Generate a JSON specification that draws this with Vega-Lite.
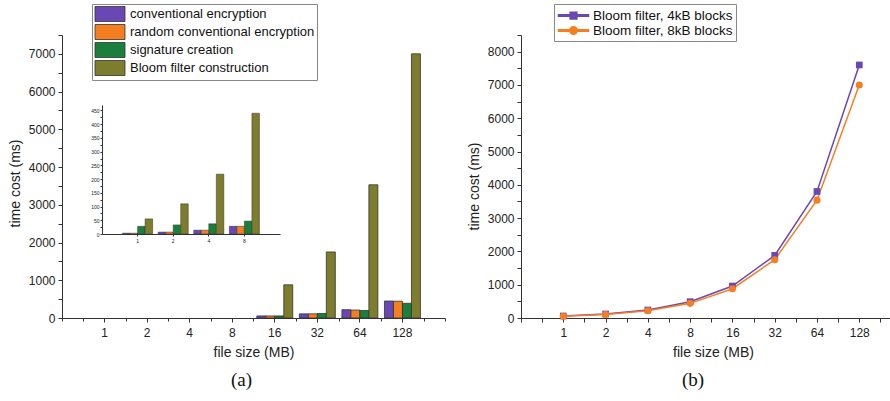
{
  "$schema": "https://vega.github.io/schema/vega-lite/v6.json",
  "padding": {"left": 8, "top": 3, "right": 0, "bottom": 0},
  "background": "white",
  "config": {
    "font": "Liberation Sans",
    "view": {"stroke": null},
    "axis": {"grid": false, "domainColor": "#333", "tickColor": "#333", "labelColor": "#222", "titleColor": "#222", "labelFont": "Liberation Sans", "titleFont": "Liberation Sans", "titleFontWeight": "normal", "labelFontSize": 12, "titleFontSize": 14, "tickSize": 4},
    "concat": {"spacing": 21}
  },
  "resolve": {"scale": {"color": "independent"}, "legend": {"color": "independent"}},
  "datasets": {
    "bars": [
      {"size": 1, "series": "conventional encryption", "value": 3},
      {"size": 1, "series": "random conventional encryption", "value": 3},
      {"size": 1, "series": "signature creation", "value": 28},
      {"size": 1, "series": "Bloom filter construction", "value": 55},
      {"size": 2, "series": "conventional encryption", "value": 7},
      {"size": 2, "series": "random conventional encryption", "value": 7},
      {"size": 2, "series": "signature creation", "value": 33},
      {"size": 2, "series": "Bloom filter construction", "value": 110},
      {"size": 4, "series": "conventional encryption", "value": 14},
      {"size": 4, "series": "random conventional encryption", "value": 14},
      {"size": 4, "series": "signature creation", "value": 37},
      {"size": 4, "series": "Bloom filter construction", "value": 218},
      {"size": 8, "series": "conventional encryption", "value": 28},
      {"size": 8, "series": "random conventional encryption", "value": 28},
      {"size": 8, "series": "signature creation", "value": 47},
      {"size": 8, "series": "Bloom filter construction", "value": 440},
      {"size": 16, "series": "conventional encryption", "value": 55},
      {"size": 16, "series": "random conventional encryption", "value": 55},
      {"size": 16, "series": "signature creation", "value": 55},
      {"size": 16, "series": "Bloom filter construction", "value": 880},
      {"size": 32, "series": "conventional encryption", "value": 110},
      {"size": 32, "series": "random conventional encryption", "value": 110},
      {"size": 32, "series": "signature creation", "value": 120},
      {"size": 32, "series": "Bloom filter construction", "value": 1750},
      {"size": 64, "series": "conventional encryption", "value": 220},
      {"size": 64, "series": "random conventional encryption", "value": 210},
      {"size": 64, "series": "signature creation", "value": 200},
      {"size": 64, "series": "Bloom filter construction", "value": 3530},
      {"size": 128, "series": "conventional encryption", "value": 450},
      {"size": 128, "series": "random conventional encryption", "value": 445},
      {"size": 128, "series": "signature creation", "value": 390},
      {"size": 128, "series": "Bloom filter construction", "value": 7000}
    ],
    "lines": [
      {"size": 1, "series": "Bloom filter, 4kB blocks", "value": 60},
      {"size": 2, "series": "Bloom filter, 4kB blocks", "value": 120},
      {"size": 4, "series": "Bloom filter, 4kB blocks", "value": 240},
      {"size": 8, "series": "Bloom filter, 4kB blocks", "value": 490},
      {"size": 16, "series": "Bloom filter, 4kB blocks", "value": 960},
      {"size": 32, "series": "Bloom filter, 4kB blocks", "value": 1880},
      {"size": 64, "series": "Bloom filter, 4kB blocks", "value": 3800},
      {"size": 128, "series": "Bloom filter, 4kB blocks", "value": 7600},
      {"size": 1, "series": "Bloom filter, 8kB blocks", "value": 50},
      {"size": 2, "series": "Bloom filter, 8kB blocks", "value": 105},
      {"size": 4, "series": "Bloom filter, 8kB blocks", "value": 220},
      {"size": 8, "series": "Bloom filter, 8kB blocks", "value": 440},
      {"size": 16, "series": "Bloom filter, 8kB blocks", "value": 880},
      {"size": 32, "series": "Bloom filter, 8kB blocks", "value": 1750},
      {"size": 64, "series": "Bloom filter, 8kB blocks", "value": 3540},
      {"size": 128, "series": "Bloom filter, 8kB blocks", "value": 7000}
    ]
  },
  "hconcat": [
    {
      "width": 383,
      "height": 283,
      "data": {"name": "bars"},
      "title": {"text": "(a)", "orient": "bottom", "font": "Liberation Serif", "fontSize": 19, "fontWeight": "normal", "color": "#111", "dx": -12, "offset": 12},
      "layer": [
        {
          "transform": [{"filter": {"field": "size", "oneOf": [16, 32, 64, 128]}}],
          "mark": {"type": "bar", "stroke": "#333", "strokeWidth": 0.8},
          "encoding": {
            "x": {"field": "size", "type": "ordinal", "scale": {"domain": [1, 2, 4, 8, 16, 32, 64, 128], "paddingInner": 0.155, "paddingOuter": 0.5775}, "axis": {"title": "file size (MB)", "labelAngle": 0, "bandPosition": 0.5, "labelPadding": 5, "titlePadding": 7}},
            "xOffset": {"field": "series", "type": "nominal", "scale": {"domain": ["conventional encryption", "random conventional encryption", "signature creation", "Bloom filter construction"]}},
            "y": {"field": "value", "type": "quantitative", "scale": {"domain": [0, 7500], "nice": false}, "axis": {"title": "time cost (ms)", "format": "d", "values": [0, 500, 1000, 1500, 2000, 2500, 3000, 3500, 4000, 4500, 5000, 5500, 6000, 6500, 7000, 7500], "labelExpr": "datum.value % 1000 === 0 ? datum.label : ''", "labelPadding": 3, "titlePadding": 6, "titleY": 148}},
            "color": {"field": "series", "type": "nominal", "scale": {"domain": ["conventional encryption", "random conventional encryption", "signature creation", "Bloom filter construction"], "range": ["#6a48b4", "#f57f20", "#1a7f3c", "#7d7d2d"]}, "legend": {"orient": "none", "legendX": 30, "legendY": -31, "title": null, "strokeColor": "#888", "fillColor": "white", "padding": 2, "symbolType": "M-2,-1H2V1H-2Z", "symbolSize": 225, "symbolOffset": 8, "symbolStrokeColor": "#333", "symbolStrokeWidth": 0.8, "symbolOpacity": 1, "labelFontSize": 13, "labelLimit": 400, "labelOffset": 12, "rowPadding": -4.1, "labelColor": "#111"}}
          }
        },
        {
          "mark": {"type": "point", "opacity": 0},
          "encoding": {
            "x": {"field": "size", "type": "quantitative", "scale": {"type": "log", "base": 2, "domain": [0.5, 256], "nice": false}, "axis": {"orient": "bottom", "title": null, "labels": false, "domain": false, "tickSize": 3, "values": [0.5, 0.7071, 1.4142, 2.8284, 5.6569, 11.3137, 22.6274, 45.2548, 90.5097, 181.0193, 256]}}
          }
        },
        {
          "transform": [{"filter": {"field": "size", "oneOf": [1, 2, 4, 8]}}],
          "mark": {"type": "bar", "stroke": "#333", "strokeWidth": 0.5},
          "encoding": {
            "x": {"field": "size", "type": "ordinal", "scale": {"domain": [1, 2, 4, 8], "range": [40, 218], "paddingInner": 0.155, "paddingOuter": 0.5775}, "axis": {"orient": "bottom", "offset": -84, "title": null, "labelAngle": 0, "labelFontSize": 5, "tickSize": 2, "labelPadding": 2, "bandPosition": 0.5}},
            "xOffset": {"field": "series", "type": "nominal", "scale": {"domain": ["conventional encryption", "random conventional encryption", "signature creation", "Bloom filter construction"]}},
            "y": {"field": "value", "type": "quantitative", "scale": {"domain": [0, 470], "range": [199, 70], "nice": false}, "axis": {"orient": "left", "offset": -40, "title": null, "values": [0, 25, 50, 75, 100, 125, 150, 175, 200, 225, 250, 275, 300, 325, 350, 375, 400, 425, 450], "labelExpr": "datum.value % 50 === 0 ? datum.label : ''", "labelFontSize": 5, "tickSize": 2, "labelPadding": 1}},
            "color": {"field": "series", "type": "nominal"}
          }
        }
      ],
      "resolve": {"scale": {"x": "independent", "y": "independent", "xOffset": "independent"}}
    },
    {
      "width": 370,
      "height": 283,
      "data": {"name": "lines"},
      "title": {"text": "(b)", "orient": "bottom", "font": "Liberation Serif", "fontSize": 19, "fontWeight": "normal", "color": "#111", "dx": -13, "offset": 12},
      "encoding": {
        "x": {"field": "size", "type": "quantitative", "scale": {"type": "log", "base": 2, "domain": [0.5, 215.3], "nice": false}, "axis": {"title": "file size (MB)", "values": [0.5, 0.7071, 1, 1.4142, 2, 2.8284, 4, 5.6569, 8, 11.3137, 16, 22.6274, 32, 45.2548, 64, 90.5097, 128, 181.0193], "labelExpr": "datum.value >= 1 && abs(datum.value - round(datum.value)) < 0.01 ? '' + round(datum.value) : ''", "labelPadding": 5, "titlePadding": 7, "titleX": 192}},
        "y": {"field": "value", "type": "quantitative", "scale": {"domain": [0, 8500], "nice": false}, "axis": {"title": "time cost (ms)", "format": "d", "values": [0, 500, 1000, 1500, 2000, 2500, 3000, 3500, 4000, 4500, 5000, 5500, 6000, 6500, 7000, 7500, 8000, 8500], "labelExpr": "datum.value % 1000 === 0 ? datum.label : ''", "labelPadding": 3, "titlePadding": 6, "titleY": 151}},
        "color": {"field": "series", "type": "nominal", "scale": {"domain": ["Bloom filter, 4kB blocks", "Bloom filter, 8kB blocks"], "range": ["#6a48b4", "#f57f20"]}, "legend": {"orient": "none", "legendX": 33, "legendY": -31, "title": null, "strokeColor": "#888", "fillColor": "white", "padding": 3, "symbolSize": 225, "symbolOffset": 8, "labelFontSize": 13.5, "labelLimit": 400, "labelOffset": 11, "rowPadding": -0.5, "labelColor": "#111", "encode": {"symbols": {"update": {"shape": {"signal": "datum.value === 'Bloom filter, 4kB blocks' ? 'M-2,-0.1H2V0.1H-2Z M-0.45,-0.45H0.45V0.45H-0.45Z' : 'M-2,-0.1H2V0.1H-2Z M0.5,0A0.5,0.5,0,1,1,-0.5,0A0.5,0.5,0,1,1,0.5,0Z'"}, "fill": {"signal": "datum.value === 'Bloom filter, 4kB blocks' ? '#6a48b4' : '#f57f20'"}, "stroke": {"value": "transparent"}, "opacity": {"value": 1}}}}}}
      },
      "layer": [
        {"mark": {"type": "line", "strokeWidth": 1.5}},
        {
          "transform": [{"filter": {"field": "series", "equal": "Bloom filter, 4kB blocks"}}],
          "mark": {"type": "point", "filled": true, "opacity": 1, "size": 45, "shape": "square"}
        },
        {
          "transform": [{"filter": {"field": "series", "equal": "Bloom filter, 8kB blocks"}}],
          "mark": {"type": "point", "filled": true, "opacity": 1, "size": 50, "shape": "circle"}
        }
      ]
    }
  ]
}
